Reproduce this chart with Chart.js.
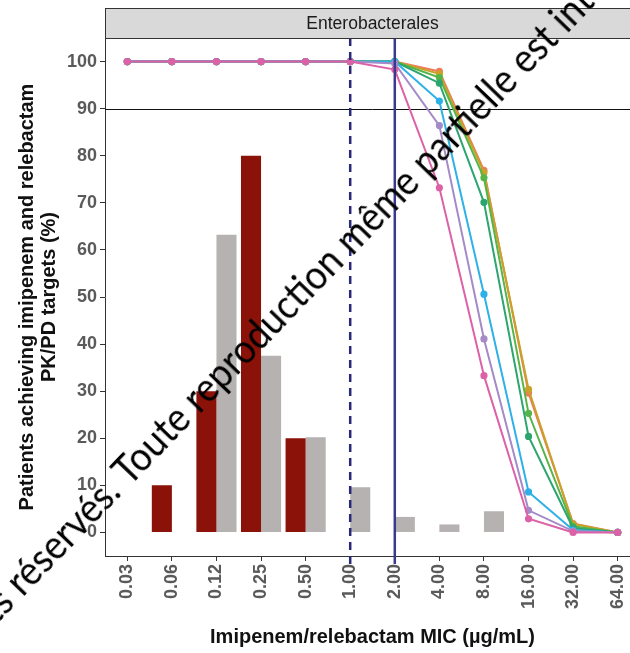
<!DOCTYPE html>
<html>
<head>
<meta charset="utf-8">
<script src="https://cdn.jsdelivr.net/npm/chart.js@4"></script>
<style>
html, body { margin: 0; padding: 0; background: #fff; overflow: hidden; }
#wrap { position: relative; width: 630px; height: 653px; overflow: hidden; }
#chart { position: absolute; left: 0; top: 0; }
#wm { position: absolute; left: 126px; top: 484px; transform-origin: 0 0; transform: rotate(-46deg) scaleY(1.1);
      white-space: nowrap; font-family: Lato, "Open Sans", sans-serif; font-size: 37px; color: #000; pointer-events: none; }
#wm span { position: absolute; bottom: -8px; line-height: 1; }
</style>
</head>
<body>
<div id="wrap">
  <canvas id="chart" width="645" height="653"></canvas>
  <div id="wm"><span style="right:0">Tous droits réservés.&nbsp;</span><span style="left:0">Toute reproduction même partielle est interdite.</span></div>
</div>
<script>
const mics = ['0.03', '0.06', '0.12', '0.25', '0.50', '1.00', '2.00', '4.00', '8.00', '16.00', '32.00', '64.00'];
const yTicks = [0, 10, 20, 30, 40, 50, 60, 70, 80, 90, 100];

// MIC distribution bars (%)
const redBars  = [null, 10, 30, 80, 20, null, null, null, null, null, null, null];
const grayBars = [null, null, 63.2, 37.5, 20.2, 9.6, 3.3, 1.7, 4.5, null, null, null];

// PTA curves (%)
const ptaCoral  = [100, 100, 100, 100, 100, 100, 100, 97.9, 76.9, 29.6, 1.9, 0];
const ptaGold   = [100, 100, 100, 100, 100, 100, 100, 97.4, 76.4, 30.4, 1.8, 0];
const ptaGreen  = [100, 100, 100, 100, 100, 100, 100, 96.6, 75.3, 25.3, 1.3, 0];
const ptaTeal   = [100, 100, 100, 100, 100, 100, 100, 95.4, 70.1, 20.4, 0.9, 0];
const ptaBlue   = [100, 100, 100, 100, 100, 100, 100, 91.6, 50.6, 8.6, 0.5, 0];
const ptaPurple = [100, 100, 100, 100, 100, 100, 99.6, 86.4, 41.1, 4.7, 0.3, 0];
const ptaPink   = [100, 100, 100, 100, 100, 100, 98.3, 73.2, 33.3, 2.9, 0, 0];

const targetLine = 90;
const dashedAt = '1.00';
const solidAt = '2.00';

function line(label, data, color, order) {
    return {
        type: 'line', label, data, order,
        borderColor: color, backgroundColor: color,
        borderWidth: 2, pointRadius: 2.6, pointHoverRadius: 2.6, tension: 0
    };
}

const stripPlugin = {
    id: 'strip',
    afterDraw(chart) {
        const { ctx, chartArea } = chart;
        ctx.save();
        ctx.fillStyle = '#d9d9d9';
        ctx.fillRect(chartArea.left, 8, chartArea.right - chartArea.left, chartArea.top - 8);
        ctx.strokeStyle = '#333';
        ctx.lineWidth = 1;
        ctx.strokeRect(chartArea.left + 0.5, 8.5, chartArea.right - chartArea.left, chartArea.top - 8);
        ctx.fillStyle = '#1a1a1a';
        ctx.font = '17.5px "Liberation Sans", Arial, sans-serif';
        ctx.textAlign = 'center';
        ctx.textBaseline = 'middle';
        ctx.fillText('Enterobacterales', (chartArea.left + chartArea.right) / 2, (8 + chartArea.top) / 2 + 1);
        ctx.restore();
    }
};

const refLines = {
    id: 'refLines',
    beforeDatasetsDraw(chart) {
        const { ctx, chartArea, scales: { y } } = chart;
        const py = Math.round(y.getPixelForValue(targetLine)) + 0.5;
        ctx.save();
        ctx.strokeStyle = '#111';
        ctx.lineWidth = 1;
        ctx.beginPath();
        ctx.moveTo(chartArea.left, py);
        ctx.lineTo(chartArea.right, py);
        ctx.stroke();
        ctx.restore();
    },
    afterDatasetsDraw(chart) {
        const { ctx, chartArea, scales: { x } } = chart;
        ctx.save();
        ctx.lineWidth = 2.5;
        ctx.strokeStyle = '#2a2878';
        ctx.setLineDash([8, 6]);
        let px = x.getPixelForValue(mics.indexOf(dashedAt));
        ctx.beginPath();
        ctx.moveTo(px, chartArea.top);
        ctx.lineTo(px, chartArea.bottom + 8);
        ctx.stroke();
        ctx.setLineDash([]);
        ctx.strokeStyle = '#3a3890';
        px = x.getPixelForValue(mics.indexOf(solidAt));
        ctx.beginPath();
        ctx.moveTo(px, chartArea.top);
        ctx.lineTo(px, chartArea.bottom + 8);
        ctx.stroke();
        ctx.restore();
    }
};

const tickFont = { family: '"Liberation Sans", Arial, sans-serif', size: 18, weight: 'bold' };
const titleFont = { family: '"Liberation Sans", Arial, sans-serif', size: 20, weight: 'bold', lineHeight: 1.1 };

new Chart(document.getElementById('chart'), {
    type: 'bar',
    data: {
        labels: mics,
        datasets: [
            { label: 'MIC distribution A', data: redBars, backgroundColor: '#8a1208', order: 20, categoryPercentage: 0.9, barPercentage: 1.0 },
            { label: 'MIC distribution B', data: grayBars, backgroundColor: '#b5b2b1', order: 20, categoryPercentage: 0.9, barPercentage: 1.0 },
            line('Regimen 1', ptaCoral, '#ef7a5e', 7),
            line('Regimen 2', ptaGold, '#c9a227', 6),
            line('Regimen 3', ptaGreen, '#55b548', 5),
            line('Regimen 4', ptaTeal, '#2ca56e', 4),
            line('Regimen 5', ptaBlue, '#2db1e6', 3),
            line('Regimen 6', ptaPurple, '#a48bc8', 2),
            line('Regimen 7', ptaPink, '#dc61a6', 1)
        ]
    },
    options: {
        responsive: false,
        animation: false,
        layout: { padding: { top: 38, right: 5, bottom: 0, left: 0 } },
        plugins: { legend: { display: false }, tooltip: { enabled: false } },
        scales: {
            x: {
                offset: true,
                grid: { drawOnChartArea: false, offset: false, tickLength: 5, color: '#333' },
                border: { color: '#333', width: 1 },
                ticks: { font: tickFont, color: '#5a5a5a', minRotation: 90, maxRotation: 90, padding: 3, autoSkip: false },
                title: { display: true, text: 'Imipenem/relebactam MIC (µg/mL)', font: titleFont, color: '#111', padding: { top: 0, bottom: 5 } },
                afterFit(scale) { scale.height = 97; }
            },
            y: {
                min: -5, max: 105,
                afterBuildTicks(scale) { scale.ticks = yTicks.map(v => ({ value: v })); },
                grid: { drawOnChartArea: false, tickLength: 5, color: '#333' },
                border: { color: '#333', width: 1 },
                ticks: { font: tickFont, color: '#5a5a5a', padding: 3 },
                title: { display: true, text: ['Patients achieving imipenem and relebactam', 'PK/PD targets (%)'], font: titleFont, color: '#111', padding: { top: 16, bottom: 0 } },
                afterFit(scale) { scale.width = 105; }
            }
        }
    },
    plugins: [stripPlugin, refLines]
});
</script>
</body>
</html>
